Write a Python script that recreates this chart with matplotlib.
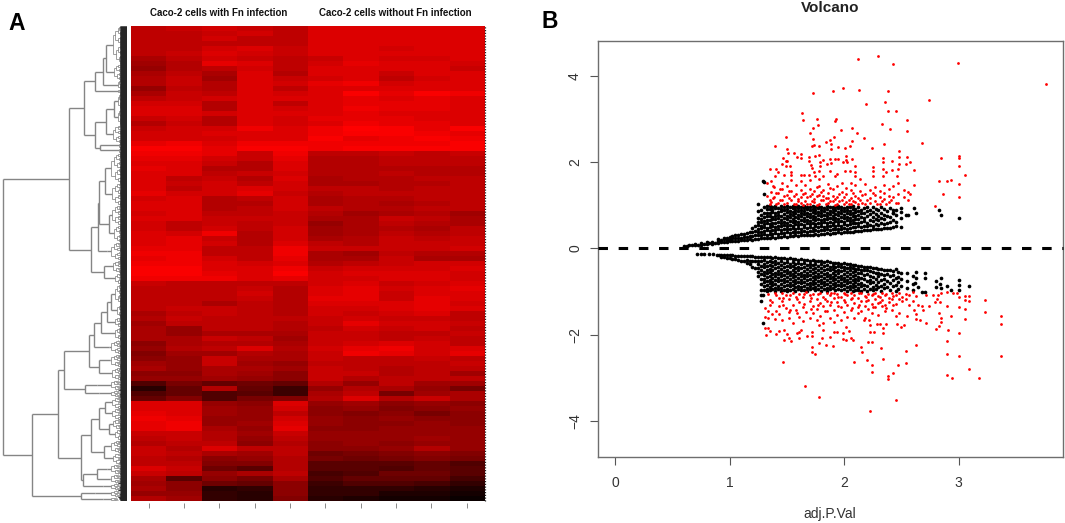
import numpy as np
import matplotlib
matplotlib.use("Agg")
import matplotlib.pyplot as plt
from matplotlib.collections import LineCollection
from matplotlib.colors import LinearSegmentedColormap

plt.rcParams['font.family'] = ['Liberation Sans', 'DejaVu Sans']

W, H = 1065, 523

# heatmap, red level / 10 for each row and sample
heat_rows = [
    [19,20,21,20,19,22,22,22,22,22],[19,19,20,21,19,22,22,22,22,22],[19,19,21,19,19,22,22,22,22,22],
    [19,19,19,19,19,22,22,22,22,22],[19,19,21,22,20,22,22,21,22,22],[19,20,22,21,20,22,22,22,22,22],
    [17,19,21,20,19,20,22,21,21,22],[16,18,23,22,19,21,23,22,22,21],[15,18,19,21,19,22,22,22,22,20],
    [17,19,17,22,18,22,22,20,22,22],[18,20,16,22,20,21,22,19,21,22],[18,20,18,22,21,23,24,21,22,22],
    [15,19,18,22,19,22,22,22,22,22],[17,20,19,22,21,22,25,23,25,24],[19,20,21,22,22,22,23,22,23,22],
    [21,21,18,22,19,22,23,23,23,22],[22,22,18,22,21,22,24,23,23,22],[22,22,21,22,22,22,23,22,22,22],
    [20,21,18,22,21,23,23,23,22,22],[18,20,18,22,21,22,24,23,23,22],[20,21,21,24,22,24,26,25,23,25],
    [21,21,22,22,22,24,25,25,24,23],[21,21,21,22,22,25,23,24,25,24],[23,24,22,24,24,24,24,24,24,25],
    [25,25,23,25,25,24,25,25,25,25],[24,24,23,20,24,19,19,20,19,20],[23,23,21,20,23,18,18,19,19,19],
    [22,22,20,18,22,18,18,19,19,19],[23,22,18,18,22,18,18,18,18,18],[22,22,19,20,21,18,18,19,18,18],
    [22,19,20,18,22,17,18,18,19,19],[22,20,21,19,21,17,17,18,18,19],[22,19,21,22,21,19,19,18,19,19],
    [23,21,21,23,20,18,19,19,19,19],[21,22,18,19,21,17,18,18,19,19],[22,22,18,18,21,17,18,17,18,19],
    [22,22,18,19,21,19,18,18,19,19],[21,22,19,19,20,18,16,17,18,16],[22,22,20,20,20,17,17,20,19,17],
    [21,19,20,19,20,15,17,19,18,17],[21,19,21,19,21,16,17,18,17,19],[22,21,24,18,21,16,17,19,18,19],
    [22,23,20,18,21,17,18,20,19,20],[22,23,21,18,22,19,18,20,20,20],[23,23,19,19,24,20,20,20,20,21],
    [24,24,19,19,24,17,16,19,18,18],[23,24,21,19,23,17,17,20,17,17],[24,24,22,21,22,18,19,20,21,21],
    [25,25,22,22,24,20,21,21,21,22],[25,25,23,22,25,21,22,22,22,21],[24,24,24,22,23,21,21,22,22,21],
    [20,19,19,19,19,21,22,20,21,22],[19,19,19,20,18,22,23,21,22,23],[19,19,19,21,18,22,23,20,22,22],
    [19,19,19,20,18,23,23,20,23,22],[19,19,17,19,18,22,22,22,23,21],[19,20,20,19,18,21,21,22,23,22],
    [17,19,20,19,18,21,20,21,22,19],[18,20,19,19,19,20,21,20,20,19],[16,19,19,19,18,20,23,21,21,20],
    [17,15,19,19,18,19,21,20,21,19],[17,15,17,17,17,20,20,19,19,20],[17,17,20,19,16,20,20,19,20,19],
    [14,17,18,18,17,20,21,22,21,19],[15,18,19,22,18,21,23,24,21,22],[13,16,16,18,17,20,24,23,21,23],
    [14,15,20,17,17,20,19,19,20,19],[16,15,20,16,15,19,19,19,19,20],[17,15,17,17,16,20,19,18,19,19],
    [14,14,17,16,14,20,20,18,19,16],[15,15,16,15,14,20,18,19,19,19],[8,12,10,11,10,18,15,19,16,16],
    [4,10,18,10,6,15,18,17,15,12],[8,10,8,9,6,17,19,12,16,17],[10,13,8,12,13,18,22,18,20,17],
    [22,22,15,14,22,15,16,14,15,14],[22,22,16,15,21,14,15,13,14,15],[23,22,16,15,19,14,13,14,12,14],
    [24,23,15,15,21,15,14,15,14,14],[23,24,15,16,22,15,14,14,15,14],[23,24,17,15,23,14,14,15,15,15],
    [20,20,18,16,20,15,15,15,15,15],[19,20,18,15,19,15,15,15,16,15],[18,19,19,14,18,14,15,14,15,15],
    [20,18,22,19,19,14,14,15,18,15],[20,19,17,16,19,11,12,13,14,13],[19,18,14,15,18,12,11,12,13,12],
    [19,19,13,13,18,9,9,9,10,8],[22,20,11,9,18,9,9,8,10,9],[20,19,15,17,19,7,8,11,11,9],
    [17,9,14,12,17,8,10,10,10,7],[16,14,11,10,14,6,8,8,7,5],[17,14,4,5,14,5,5,5,4,3],
    [15,15,5,4,14,5,5,3,3,2],[18,16,5,4,13,4,3,2,2,1],
]

# dendrogram: (height, child, child) is a merge, (height, rows) a dense clump of leaves
row_tree = (124,
    (58,
        (43,
            (31.5, (23.5, (21, (14, 38), (13, 16)), (9, 9)), (9, 4)),
            (32, (21, (13, (9, 16), (9, 16)), (14, 18)), (26.5, (8, 5), (8, 5)))),
        (36,
            (29,
                (27.5, (22, (16, 30), (15, 22)), (18, (15, 20), (13, 17))),
                (20, 18)),
            (23, (14, 13), (12, 11)))),
    (95,
        (68.5,
            (63,
                (38,
                    (33, (25.5, (19.5, (16, (12, 20), (10, 13)), (12, 10)), (12, 13)), (18, 14)),
                    (28, (17, 13), (15, 13))),
                (42, (30, 10), (28, 7))),
            (46,
                (35.5,
                    (28, (21.5, (15, 11), (15, 11)), (18, (14, 10), (12, 11))),
                    (23, (16, 13), (14, 11))),
                (44, (30, (20, 10), (17, 9)), (24, 7)))),
        (46, (32, 7), (24, 4))))

# volcano, points read one by one
red_up_x = [2.12,2.30,2.43,2.995,3.76,1.73,1.90,1.99,2.13,2.38,2.19,2.36,2.74,1.63,1.64,1.76,1.93,1.92,2.38,2.45,
    2.55,2.33,1.77,1.73,1.70,1.97,2.07,2.40,2.55,2.11,1.49,2.17,1.73,1.91,1.88,1.84,2.07,2.68,2.35,1.40,
    1.72,1.74,1.78,1.89,1.95,1.89,2.05,2.01,2.24,1.50,2.48,1.51,1.56,1.62,1.75,1.78,1.59,1.62,1.69,1.47,
    1.69,1.82,1.88,1.92,1.95,2.02,2.02,2.07,2.34,2.34,2.42,2.48,2.55,2.85,3.0,3.0,3.0,2.58,2.54,2.48,
    1.46,1.49,1.50,1.71,1.79,1.79,1.85,1.89,1.99,2.03,1.72,1.35,1.41,1.53,1.49,2.10,2.25,2.34,2.42,2.47,
    2.61,1.42,1.54,1.74,1.78,1.88,2.01,2.05,2.10,2.25,2.37,1.40,1.48,1.54,1.62,1.65,1.69,1.75,1.82,1.94,
    1.92,2.10,2.25,2.34,2.46,3.06,2.93,2.90,2.83,3.0,2.61,2.86,3.0,2.79,2.58]
red_up_y = [4.38,4.46,4.27,4.29,3.80,3.59,3.65,3.71,3.67,3.65,3.35,3.39,3.43,3.14,2.98,3.0,3.0,2.95,3.18,3.19,
    2.98,2.87,2.85,2.78,2.68,2.75,2.80,2.77,2.71,2.67,2.58,2.55,2.53,2.58,2.51,2.47,2.49,2.44,2.41,2.37,
    2.38,2.39,2.37,2.42,2.34,2.30,2.37,2.32,2.32,2.31,2.25,2.22,2.20,2.19,2.15,2.17,2.11,2.10,2.11,2.09,
    2.03,2.05,2.07,2.07,2.07,2.13,2.05,2.07,2.10,2.01,2.03,2.12,2.11,2.10,2.13,2.10,1.92,2.0,1.95,1.96,
    1.96,2.03,2.02,1.93,2.01,1.92,1.95,1.97,1.99,2.0,1.86,1.84,1.83,1.92,1.91,1.90,1.88,1.83,1.82,1.83,
    1.82,1.76,1.78,1.78,1.79,1.79,1.80,1.79,1.78,1.79,1.78,1.67,1.70,1.70,1.69,1.69,1.70,1.68,1.68,1.72,
    1.68,1.68,1.67,1.67,1.68,1.70,1.58,1.55,1.55,1.50,1.46,1.27,1.19,0.99,1.27]
# bottom of the upper red band, by column
red_up_cols = [1.33,1.35,1.36,1.38,1.39,1.41,1.42,1.44,1.46,1.48,1.50,1.52,1.54,1.56,1.58,1.60,1.62,1.64,1.66,1.68,
    1.70,1.72,1.74,1.76,1.78,1.80,1.82,1.84,1.86,1.88,1.90,1.92,1.94,1.96,1.98,2.00,2.02,2.04,2.06,2.08,
    2.10,2.12,2.14,2.16,2.18,2.20,2.23,2.25,2.27,2.29,2.31,2.33,2.35,2.37,2.39,2.41,2.43,2.45,2.47,2.52,2.56]
red_up_vals = [[1.51,1.22],[1.12,1.03],[1.55,1.31,1.08],[1.44,1.16],[1.18,1.42],[1.02,1.28],[1.05,1.29],[1.12,1.37],[1.52,1.13,1.38],[1.03,1.21],
    [1.24,1.05,1.45],[1.16,1.34],[1.59,1.33,1.11],[1.03,1.22],[1.02,1.27,1.46],[1.09,1.15],[1.55,1.18,1.36,1.06],[1.26,1.01],[1.29,1.10,1.48],[1.04,1.19],
    [1.59,1.21,1.03,1.38],[1.09,1.27],[1.15,1.32,1.07],[1.01,1.22,1.42],[1.44,1.24,1.04,1.60],[1.13,1.30],[1.12,1.35,1.21],[1.02,1.17],[1.05,1.28,1.50,1.16],[1.10,1.39],
    [1.09,1.37,1.22],[1.01,1.15],[1.03,1.18,1.44],[1.09,1.26],[1.30,1.12,1.51],[1.02,1.20],[1.07,1.25,1.41],[1.13,1.03],[1.16,1.04,1.35,1.51],[1.09,1.28],
    [1.22,1.08,1.46],[1.02,1.17],[1.13,1.33,1.60],[1.05,1.24],[1.04,1.26,1.50],[1.11],[1.17,1.36,1.05],[1.29],[1.24,1.10,1.43],[1.03],
    [1.02,1.33,1.20],[1.09],[1.14,1.48,1.28],[1.03],[1.07,1.38,1.22],[1.13],[1.18,1.44],[1.05],[1.27,1.05,1.52],[1.20,1.35],[1.12,1.30]]
black_up_cols = [0.60,0.65,0.70,0.75,0.80,0.85,0.90,0.925,0.95,0.975,1.00,1.025,1.05,1.075,1.10,1.125,1.15,1.175,1.20,1.225,
    1.25,1.275,1.30,1.325,1.35,1.375,1.40,1.425,1.45,1.475,1.50,1.525,1.55,1.575,1.60,1.625,1.65,1.675,1.70,1.725,
    1.75,1.775,1.80,1.825,1.85,1.875,1.90,1.925,1.95,1.975,2.00,2.025,2.05,2.075,2.10,2.125,2.15,2.175,2.20,2.225,
    2.25,2.275,2.30,2.325,2.35,2.375,2.40,2.425,2.45,2.50]
black_up_vals = [[.05],[.07],[.08,.10],[.09,.12],[.10,.14],[.11,.16],[.13,.18,.21],[.15,.20],[.16,.21,.25],[.15,.20,.24],
    [.17,.22,.27],[.17,.23,.28],[.18,.23,.30],[.18,.25,.31],[.19,.25,.33],[.20,.27,.34],[.19,.26,.36],[.21,.28,.38],[.20,.29,.39,.47],[.22,.30,.41,.52],
    [.22,.30,.37,.46,.55,.62,.70,.86,1.03],[.24,.31,.39,.47,.53,.61,.69,.77,.90],[.23,.33,.40,.49,.56,.64,.72,.81,.95],[.25,.31,.42,.48,.58,.66,.74,.83,.91,.99],[.24,.34,.41,.50,.57,.65,.75,.82,.92,.98],
    [.26,.33,.43,.52,.60,.67,.73,.84,.90,.97],[.25,.35,.42,.49,.59,.68,.76,.83,.93,.99],[.27,.34,.44,.53,.61,.70,.78,.85,.94],[.26,.36,.43,.51,.58,.66,.74,.86,.91,.98],[.28,.35,.45,.54,.62,.71,.79,.88,.95],
    [.27,.37,.46,.52,.60,.69,.75,.84,.92,.99],[.29,.36,.44,.55,.63,.72,.80,.87,.96],[.28,.38,.47,.53,.61,.68,.77,.85,.93,.98],[.30,.37,.45,.56,.64,.73,.81,.90,.97],[.29,.39,.48,.54,.62,.70,.78,.86,.94,.99],
    [.30,.38,.46,.57,.65,.74,.82,.89,.96],[.31,.40,.49,.55,.63,.71,.79,.87,.93,.98],[.30,.39,.47,.58,.66,.75,.83,.91,.97],[.32,.41,.50,.56,.64,.72,.80,.88,.95],[.31,.40,.48,.59,.67,.76,.84,.92,.99],
    [.33,.42,.51,.57,.65,.73,.81,.89,.96],[.32,.41,.49,.60,.68,.77,.85,.93,.98],[.34,.43,.52,.58,.66,.74,.82,.90,.97],[.33,.42,.50,.61,.69,.78,.86,.94],[.35,.44,.53,.59,.67,.75,.83,.91,.99],
    [.34,.43,.51,.62,.70,.79,.87,.95],[.36,.45,.54,.60,.68,.76,.84,.92,.97],[.35,.44,.52,.63,.71,.80,.88,.96],[.37,.46,.55,.61,.69,.77,.85,.93,.99],[.36,.45,.53,.64,.72,.81,.89,.95],
    [.38,.47,.56,.62,.70,.78,.86,.94],[.37,.46,.54,.65,.73,.82,.90,.97],[.39,.48,.57,.63,.71,.79,.87,.95],[.38,.50,.58,.66,.74,.83,.91,.98],[.40,.49,.60,.68,.76,.84,.92],
    [.41,.52,.59,.67,.78,.86,.96],[.40,.50,.61,.72,.81,.90],[.42,.53,.64,.70,.83,.94],[.43,.51,.60,.75,.87,.97],[.42,.55,.66,.79,.90],
    [.44,.52,.63,.73,.85,.96],[.45,.57,.68,.80,.91],[.44,.54,.65,.76,.88],[.46,.60,.71,.83,.95],[.47,.56,.67,.78,.92],
    [.47,.59,.74,.86],[.48,.62,.72,.94],[.50,.66,.81,.90],[.52,.61,.78,.88],[.50,.70,.84,.93],[.58,.93]]
black_up_x = [1.29,1.30,1.30,2.43,2.54,2.56,2.61,2.63,2.83,2.85,3.0,.625,.675,.725,.775,.825,.875]
black_up_y = [1.55,1.53,1.25,.81,.78,.78,.93,.83,.89,.78,.70,.06,.07,.09,.10,.12,.13]

red_low_x = [2.23,1.78,2.45,1.66,1.47,2.09,2.20,2.24,2.24,2.38,2.38,2.43,2.47,2.54,2.34,2.54,2.32,2.16,2.15,2.63,
    2.90,2.94,3.09,3.18,2.90,3.0,3.37,3.37,3.37,3.23,3.23,3.06,3.09,3.06,3.09,3.06,3.06,3.0,3.0,2.90,
    2.91,2.93,2.90,2.90,2.95,2.99,3.0,2.85,2.82,2.81,2.79,2.84,2.78,2.72,2.74,2.69,2.68,2.65,2.83,2.85,
    2.85,2.83,2.80,2.72,2.66,2.63,2.63,2.61,2.55,2.45,2.52,2.50,2.46,2.37,2.34,2.34,2.26,2.23,2.23,2.29,
    2.31,2.22,2.17,2.21,2.24,2.08,2.06,2.02,1.99,1.99,2.04,2.02,1.94,1.91,1.88,1.90,1.84,1.78,1.72,1.72,
    1.75,1.81,1.82,1.78,1.72,1.68,1.72,1.61,1.54,1.52,1.48,1.50,1.41,1.43,1.48,1.61,1.59,1.62,1.35,1.32,
    1.31,1.34]
red_low_y = [-3.77,-3.43,-3.51,-3.19,-2.62,-2.62,-2.58,-2.71,-2.86,-2.95,-3.02,-2.89,-2.70,-2.66,-2.55,-2.38,-2.31,-2.41,-2.28,-2.24,
    -2.94,-2.99,-2.80,-3.01,-2.44,-2.49,-2.48,-1.74,-1.56,-1.48,-1.20,-1.10,-1.10,-1.20,-1.21,-1.41,-1.63,-1.36,-1.97,-2.15,
    -1.90,-1.57,-1.34,-1.0,-1.04,-1.04,-1.12,-1.04,-1.08,-1.16,-1.23,-1.25,-1.08,-1.08,-1.33,-1.43,-1.33,-1.31,-1.50,-1.60,
    -1.71,-1.80,-1.86,-1.73,-1.66,-1.63,-1.53,-1.43,-1.56,-1.57,-1.77,-1.81,-1.75,-1.75,-1.85,-1.97,-1.93,-1.94,-1.77,-1.76,
    -1.74,-1.66,-1.66,-2.17,-2.17,-2.11,-2.07,-2.11,-2.10,-1.97,-1.91,-1.81,-1.93,-1.93,-2.05,-2.26,-2.24,-2.20,-2.28,-2.39,
    -2.44,-2.08,-1.89,-1.77,-1.93,-2.03,-2.03,-2.08,-2.14,-2.08,-2.11,-1.99,-1.99,-1.91,-1.89,-1.94,-1.97,-1.89,-1.91,-2.01,
    -1.84,-1.84]
red_low_cols = [1.31,1.34,1.37,1.40,1.43,1.46,1.49,1.52,1.55,1.58,1.61,1.64,1.67,1.70,1.73,1.76,1.79,1.82,1.85,1.88,
    1.91,1.94,1.97,2.00,2.03,2.06,2.09,2.12,2.15,2.18,2.21,2.24,2.27,2.30,2.33,2.36,2.39,2.42,2.45,2.48,
    2.51,2.54,2.57,2.60,2.63,
    1.35,1.41,1.47,1.53,1.59,1.65,1.71,1.77,1.83,1.89,1.95,2.01,2.07,2.13,2.19,2.25,2.31,2.37,2.43]
red_low_vals = [[-1.38,-1.58],[-1.06,-1.45,-1.60],[-1.25,-1.52],[-1.04,-1.63],[-1.14,-1.34,-1.52],[-1.03,-1.22,-1.66],[-1.38,-1.08],
    [-1.18,-1.48,-1.61],[-1.04,-1.30,-1.72],[-1.13,-1.42],[-1.24,-1.05,-1.58],[-1.36,-1.12,-1.68],[-1.02,-1.48],[-1.22,-1.09,-1.62],
    [-1.33,-1.05,-1.50],[-1.16,-1.40,-1.65],[-1.04,-1.26,-1.56],[-1.12,-1.34,-1.72],[-1.03,-1.21,-1.46],[-1.08,-1.30,-1.61],
    [-1.15,-1.04,-1.42,-1.70],[-1.06,-1.24,-1.54],[-1.13,-1.36,-1.66],[-1.03,-1.20,-1.48],[-1.09,-1.31,-1.58],[-1.16,-1.04,-1.42],
    [-1.07,-1.27,-1.60],[-1.14,-1.36,-1.50],[-1.03,-1.22,-1.44],[-1.10,-1.33,-1.60],[-1.05,-1.19,-1.40],[-1.08,-1.28,-1.50],
    [-1.04,-1.16,-1.36],[-1.11,-1.26,-1.55],[-1.03,-1.20,-1.34],[-1.07,-1.30,-1.46],[-1.14,-1.24],[-1.04,-1.18,-1.42],
    [-1.09,-1.28],[-1.03,-1.16,-1.50],[-1.12,-1.22],[-1.05,-1.18],[-1.08,-1.30],[-1.02,-1.22],[-1.10],
    [-1.20,-1.30],[-1.09,-1.44],[-1.15,-1.30],[-1.08,-1.42],[-1.18,-1.50],[-1.05,-1.28],[-1.14,-1.41],[-1.06,-1.30],[-1.17,-1.45],[-1.03,-1.24],
    [-1.12,-1.33],[-1.06,-1.25],[-1.14,-1.38],[-1.04,-1.30],[-1.12,-1.22],[-1.05,-1.35],[-1.13,-1.24],[-1.05,-1.38],[-1.10,-1.31]]
black_low_cols = [0.72,0.75,0.93,0.95,0.975,1.00,1.025,1.05,1.075,1.10,1.125,1.15,1.175,1.20,1.225,
    1.25,1.275,1.30,1.325,1.35,1.375,1.40,1.425,1.45,1.475,1.50,1.525,1.55,1.575,1.60,1.625,1.65,1.675,1.70,1.725,
    1.75,1.775,1.80,1.825,1.85,1.875,1.90,1.925,1.95,1.975,2.00,2.025,2.05,2.075,2.10,2.125,2.15,2.175,2.20,2.225,
    2.25,2.275,2.30,2.325,2.35,2.375,2.40,2.425,2.45,2.475,2.50,2.55,2.60]
black_low_vals = [[-.13],[-.13],[-.15,-.20],[-.15,-.21],[-.16,-.22],[-.16,-.23],[-.16,-.24],[-.17,-.25],[-.17,-.27],[-.17,-.28],[-.18,-.30],[-.17,-.27,-.33],[-.18,-.30,-.37],[-.18,-.28,-.42],[-.19,-.30,-.45],
    [-.19,-.28,-.37,-.46,-.55,-.63],[-.20,-.30,-.40,-.50,-.59,-.70,-.83,-.96,-1.08,-1.22],[-.19,-.27,-.36,-.44,-.54,-.62,-.71,-.78,-.88,-.97],[-.21,-.31,-.41,-.49,-.58,-.66,-.75,-.84,-.93,-.99],[-.20,-.28,-.38,-.47,-.55,-.63,-.72,-.80,-.90,-.96],
    [-.22,-.32,-.40,-.51,-.59,-.68,-.77,-.85,-.94],[-.21,-.29,-.37,-.46,-.56,-.64,-.73,-.82,-.91,-.98],[-.22,-.33,-.42,-.52,-.60,-.69,-.76,-.86,-.95],[-.23,-.30,-.39,-.48,-.57,-.65,-.74,-.83,-.92,-.98],[-.22,-.34,-.43,-.53,-.61,-.70,-.78,-.87,-.96],
    [-.24,-.31,-.40,-.49,-.58,-.66,-.75,-.84,-.93,-.99],[-.23,-.35,-.44,-.54,-.62,-.71,-.79,-.88,-.97],[-.25,-.32,-.41,-.50,-.59,-.67,-.76,-.85,-.94],[-.24,-.36,-.45,-.55,-.63,-.72,-.80,-.89,-.98],[-.26,-.33,-.42,-.51,-.60,-.68,-.77,-.86,-.95],
    [-.25,-.37,-.46,-.56,-.64,-.73,-.81,-.90,-.97],[-.27,-.34,-.43,-.52,-.61,-.69,-.78,-.87,-.96],[-.26,-.38,-.47,-.57,-.65,-.74,-.82,-.91,-.99],[-.28,-.35,-.44,-.53,-.62,-.70,-.79,-.88,-.95],[-.27,-.39,-.48,-.58,-.66,-.75,-.83,-.92],
    [-.29,-.36,-.45,-.54,-.63,-.71,-.80,-.89,-.97],[-.28,-.40,-.49,-.59,-.67,-.76,-.84,-.93],[-.30,-.37,-.46,-.55,-.64,-.72,-.81,-.90,-.98],[-.31,-.41,-.50,-.60,-.68,-.77,-.85,-.94],[-.30,-.38,-.47,-.56,-.65,-.73,-.82,-.91,-.99],
    [-.32,-.42,-.51,-.61,-.69,-.78,-.86,-.95],[-.33,-.40,-.48,-.57,-.66,-.74,-.83,-.92],[-.34,-.43,-.52,-.62,-.70,-.79,-.87,-.96],[-.33,-.41,-.49,-.58,-.67,-.75,-.84,-.93],[-.35,-.44,-.53,-.63,-.71,-.80,-.88,-.97],
    [-.34,-.42,-.50,-.59,-.68,-.76,-.85,-.94],[-.36,-.45,-.54,-.64,-.72,-.81,-.89,-.98],[-.37,-.43,-.51,-.60,-.69,-.77,-.86,-.95],[-.38,-.46,-.55,-.65,-.73,-.82,-.90,-.99],[-.38,-.47,-.52,-.61,-.70,-.78,-.87,-.96],
    [-.40,-.48,-.56,-.66,-.74,-.83,-.91,-.97],[-.41,-.49,-.58,-.69,-.79,-.88,-.98],[-.42,-.51,-.62,-.71,-.84,-.93],[-.43,-.50,-.60,-.76,-.86,-.99],[-.44,-.53,-.64,-.73,-.81,-.95],
    [-.45,-.55,-.67,-.78,-.90,-.97],[-.46,-.58,-.70,-.84,-.94],[-.47,-.56,-.65,-.77,-.89],[-.48,-.60,-.73,-.86,-.98],[-.49,-.62,-.71,-.82,-.92],
    [-.50,-.59,-.76,-.90],[-.51,-.64,-.80,-.96],[-.52,-.61,-.72,-.87],[-.48,-.68,-.84,-.99],[-.55,-.66,-.78,-.93],
    [-.58,-.70,-.86],[-.58,-.75,-.92],[-.65,-.82,-.97]]
black_low_x = [2.63,2.71,2.71,2.63,2.62,2.65,2.68,2.71,2.80,2.85,2.84,2.80,2.85,2.90,2.93,3.0,3.0,3.0,3.09,1.29,1.29,.78,.82,.86,.89,.91]
black_low_y = [-.54,-.58,-.69,-.69,-.81,-.89,-1.0,-1.0,-.75,-.69,-.83,-.89,-.92,-.86,-.96,-.73,-.85,-.96,-.87,-1.73,-1.08,-.14,-.14,-.14,-.15,-.16]

x_ticks = [0, 1, 2, 3]
y_ticks = [-4, -2, 0, 2, 4]
y_tick_labels = ['\u22124', '\u22122', '0', '2', '4']


def px_axes(fig, left, top, right, bottom):
    return fig.add_axes([left / W, 1 - bottom / H, (right - left) / W, (bottom - top) / H])


def flatten(cols, vals, extra_x=(), extra_y=()):
    xs, ys = list(extra_x), list(extra_y)
    for c, v in zip(cols, vals):
        xs += [c] * len(v)
        ys += v
    return xs, ys


fine, comb, main = [], [], []
COMB = 6.5


def draw_clump(start, n, h):
    # leaves of a clump, two per image row
    if n == 1:
        comb.append([(0, start + 0.25), (h, start + 0.25)])
        return start + 0.25
    a = n // 2 + (n % 3 == 0 and n > 3)
    hc = max(h * 0.8, COMB)
    hd = max(hc * 0.92, COMB)
    y1 = draw_clump(start, a, hc)
    y2 = draw_clump(start + a * 0.5, n - a, hd)
    if a > 1:
        fine.append([(hc, y1), (h, y1)])
    if n - a > 1:
        fine.append([(hd, y2), (h, y2)])
    fine.append([(h, y1), (h, y2)])
    return (y1 + y2) / 2


def draw_tree(node, start):
    if len(node) == 2:
        h, rows = node
        y = draw_clump(start, rows * 2, min(h, 16))
        main.append([(min(h, 16), y), (h, y)])
        return y, start + rows
    h, a, b = node
    y1, nxt = draw_tree(a, start)
    y2, nxt = draw_tree(b, nxt)
    main.append([(h, y1), (h, y2)])
    main.append([(a[0], y1), (h, y1)])
    main.append([(b[0], y2), (h, y2)])
    return (y1 + y2) / 2, nxt


fig = plt.figure(figsize=(W / 100, H / 100), dpi=100)

# panel A
ax_den = px_axes(fig, 0, 26, 127, 501)
root_y, _ = draw_tree(row_tree, 0)
ax_den.add_collection(LineCollection(fine, colors='#6a6a6a', linewidths=0.45))
ax_den.add_collection(LineCollection(comb, colors='#111111', linewidths=0.5))
ax_den.add_collection(LineCollection(main, colors='#858585', linewidths=1.0))
ax_den.set_xlim(126.5, -0.5)
ax_den.set_ylim(475, 0)
ax_den.axis('off')

ax_heat = px_axes(fig, 131, 26, 484.3, 501)
black_red = LinearSegmentedColormap.from_list('black_red', ['#000000', '#ff0000'])
ax_heat.imshow(np.array(heat_rows), cmap=black_red, vmin=0, vmax=25.5, aspect='auto',
               extent=(0, 10, len(heat_rows), 0), interpolation='nearest')
for s in ax_heat.spines.values():
    s.set_visible(False)
ax_heat.spines['bottom'].set_position(('outward', 1.5))
ax_heat.set_xticks(np.arange(10) + 0.5)
ax_heat.set_xticklabels([])
ax_heat.set_yticks([])
ax_heat.tick_params(axis='x', length=3.5, width=0.6, color='#777777')
ax_heat.axvline(10.03, color='#222222', lw=0.9, ls=(0, (1, 1.2)), clip_on=False)
ax_heat.set_xlim(0, 10)
ax_heat.set_ylim(len(heat_rows), 0)

fig.text(218.5 / W, 1 - 13 / H, 'Caco-2 cells with Fn infection', fontsize=7.05, fontweight='bold',
         ha='center', va='center', color='#111111')
fig.text(395.5 / W, 1 - 13 / H, 'Caco-2 cells without Fn infection', fontsize=7.05, fontweight='bold',
         ha='center', va='center', color='#111111')
fig.text(17 / W, 1 - 23 / H, 'A', fontsize=16.5, fontweight='bold', ha='center', va='center')
fig.text(550 / W, 1 - 22 / H, 'B', fontsize=16.5, fontweight='bold', ha='center', va='center')

# panel B
ax = px_axes(fig, 597.7, 40.7, 1063, 457)
ax.set_xlim(-0.151, 3.912)
ax.set_ylim(-4.83, 4.81)

bx, by = flatten(black_up_cols, black_up_vals, black_up_x, black_up_y)
bx2, by2 = flatten(black_low_cols, black_low_vals, black_low_x, black_low_y)
rx, ry = flatten(red_up_cols, red_up_vals, red_up_x, red_up_y)
rx2, ry2 = flatten(red_low_cols, red_low_vals, red_low_x, red_low_y)
ax.scatter(bx + bx2, by + by2, s=7, c='black', linewidths=0, zorder=2)
ax.scatter(rx + rx2, ry + ry2, s=4, c='#ff0000', linewidths=0, zorder=3)
ax.axhline(0, color='black', lw=2.2, ls=(0, (3.1, 3.5)), zorder=4, clip_on=False)

for s in ax.spines.values():
    s.set_color('#6e6e6e')
    s.set_linewidth(1.0)
ax.set_xticks(x_ticks)
ax.set_yticks(y_ticks)
ax.set_yticklabels(y_tick_labels, rotation=90, va='center')
ax.tick_params(axis='both', length=5.8, width=0.8, color='#555555', labelsize=10, labelcolor='#333333', pad=8)
ax.tick_params(axis='y', pad=5.5)

fig.text(830 / W, 1 - 514 / H, 'adj.P.Val', fontsize=10, ha='center', va='center', color='#333333')
fig.text(830 / W, 1 - 8 / H, 'Volcano', fontsize=11, fontweight='bold', ha='center', va='center', color='#222222')

fig.savefig('out.png', dpi=100)
